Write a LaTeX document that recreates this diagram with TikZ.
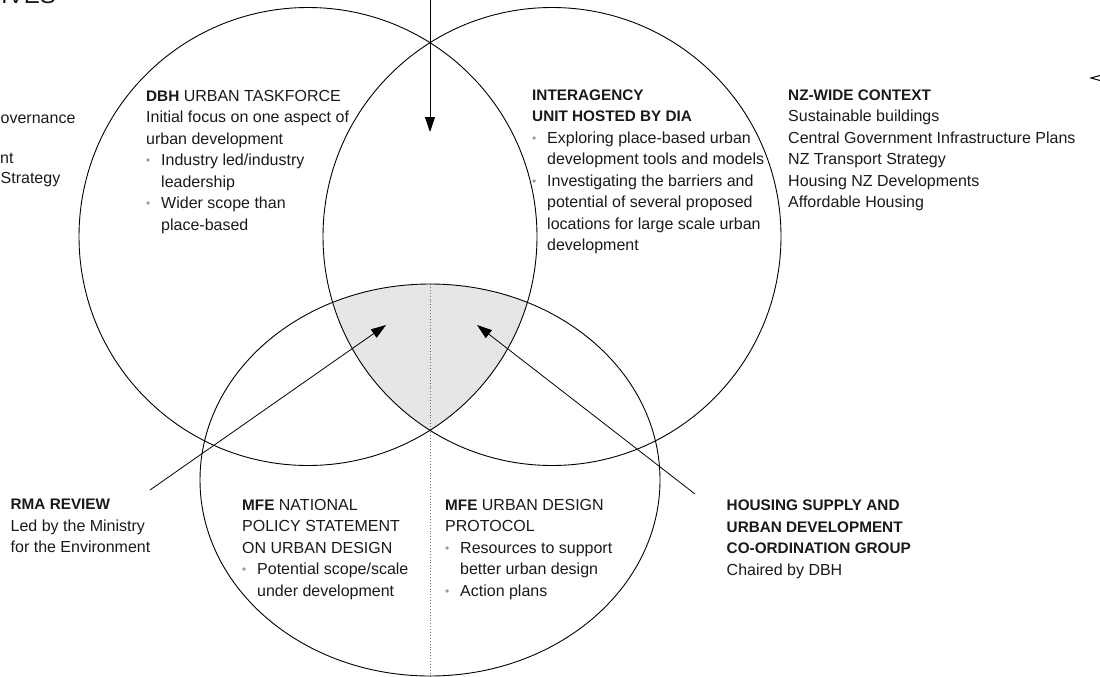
\documentclass[tikz,border=0pt]{standalone}
\usepackage{fontspec}
\setmainfont{Liberation Sans}
\usetikzlibrary{arrows.meta}

\definecolor{ink}{HTML}{1A1A1A}
\definecolor{overlap}{HTML}{E6E6E6}
\definecolor{bulletgrey}{HTML}{9A9A9A}
\definecolor{divider}{HTML}{707070}

% bullet marker and matching indent for continuation lines
\newcommand{\bitem}{\makebox[15pt][l]{\textcolor{bulletgrey}{\raisebox{1pt}{\fontsize{12}{12}\selectfont\textbullet}}}}
\newcommand{\cont}{\hspace*{15pt}}
% bold heading words
\newcommand{\hd}[1]{{\fontsize{15.3}{21.5}\selectfont\bfseries #1}}

\tikzset{
  blocktext/.style={anchor=north west, align=left, inner sep=0pt, text=ink,
                    font=\fontsize{16}{21.5}\selectfont},
  edgetext/.style={anchor=base west, inner sep=0pt, text=ink,
                   font=\fontsize{16}{21.5}\selectfont},
  ring/.style={draw=black, line width=0.9pt},
  pointer/.style={draw=black, line width=0.8pt, -{Triangle[length=15pt,width=10pt]}},
  splitline/.style={draw=divider, line width=0.9pt, dotted}
}

\begin{document}
\begin{tikzpicture}[x=1pt,y=-1pt]
  \useasboundingbox (0,0) rectangle (1100,677);

  % centres of the two upper circles and the lower oval
  \coordinate (cDBH) at (308,236.5);
  \coordinate (cDIA) at (552,236.5);
  \coordinate (cMFE) at (430,480);

  % shared region of all three shapes
  \begin{scope}
    \clip (cDBH) circle[radius=229pt];
    \clip (cDIA) circle[radius=229pt];
    \fill[overlap] (cMFE) ellipse[x radius=230pt, y radius=196pt];
  \end{scope}

  % dotted split of the lower oval
  \coordinate (splitTop) at (430,284);
  \coordinate (splitBot) at (430,677);
  \draw[splitline] (splitTop) -- (splitBot);

  % outlines
  \draw[ring] (cDBH) circle[radius=229pt];
  \draw[ring] (cDIA) circle[radius=229pt];
  \draw[ring] (cMFE) ellipse[x radius=230pt, y radius=196pt];

  % text blocks
  \node[blocktext] (dbh) at (146,90) {\hd{DBH} URBAN TASKFORCE\\
    Initial focus on one aspect of\\
    urban development\\
    \bitem Industry led/industry\\
    \cont leadership\\
    \bitem Wider scope than\\
    \cont place-based};

  \node[blocktext] (dia) at (532,89.5) {\hd{INTERAGENCY}\\
    \hd{UNIT HOSTED BY DIA}\\
    \bitem Exploring place-based urban\\
    \cont development tools and models\\
    \bitem Investigating the barriers and\\
    \cont potential of several proposed\\
    \cont locations for large scale urban\\
    \cont development};

  \node[blocktext] (nz) at (788,89.5) {\hd{NZ-WIDE CONTEXT}\\
    Sustainable buildings\\
    Central Government Infrastructure Plans\\
    NZ Transport Strategy\\
    Housing NZ Developments\\
    Affordable Housing};

  \node[blocktext] (rma) at (10.5,499) {\hd{RMA REVIEW}\\
    Led by the Ministry\\
    for the Environment};

  \node[blocktext] (nps) at (242,499) {\hd{MFE} NATIONAL\\
    POLICY STATEMENT\\
    ON URBAN DESIGN\\
    \bitem Potential scope/scale\\
    \cont under development};

  \node[blocktext] (udp) at (445,499) {\hd{MFE} URBAN DESIGN\\
    PROTOCOL\\
    \bitem Resources to support\\
    \cont better urban design\\
    \bitem Action plans};

  \node[blocktext] (hsg) at (726.5,500) {\hd{HOUSING SUPPLY AND}\\
    \hd{URBAN DEVELOPMENT}\\
    \hd{CO-ORDINATION GROUP}\\
    Chaired by DBH};

  % fragments running in from the page edges
  \node[edgetext] (edgeA) at (0.5,123) {overnance};
  \node[edgetext] (edgeB) at (0,163) {nt};
  \node[edgetext] (edgeC) at (0.5,183) {Strategy};
  \node[anchor=base west, inner sep=0pt, text=ink,
        font=\fontsize{24}{24}\selectfont] (title) at (1,4) {IVES};
  \coordinate (chevTip) at (1091,78);
  \coordinate (chevUp) at (1100,75.5);
  \coordinate (chevDn) at (1100,80.5);
  \draw[black, line width=1pt] (chevUp) -- (chevTip) -- (chevDn);

  % pointers into the overlap
  \coordinate (topIn) at (430,-2);
  \coordinate (topTip) at (430,132);
  \draw[pointer] (topIn) -- (topTip);

  \coordinate (rmaTail) at (150,490);
  \coordinate (rmaTip) at (386,325);
  \draw[pointer] (rmaTail) -- (rmaTip);

  \coordinate (hsgTail) at (695,494);
  \coordinate (hsgTip) at (477,325);
  \draw[pointer] (hsgTail) -- (hsgTip);
\end{tikzpicture}
\end{document}
